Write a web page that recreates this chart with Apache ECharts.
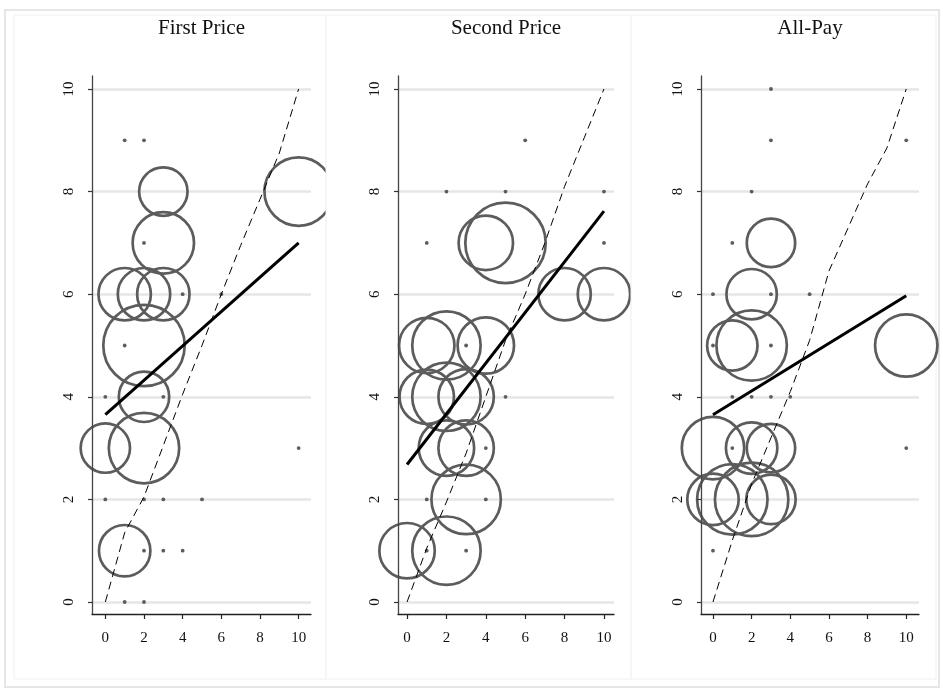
<!DOCTYPE html>
<html><head><meta charset="utf-8">
<script src="https://cdn.jsdelivr.net/npm/echarts@6/dist/echarts.min.js"></script>
<style>html,body{margin:0;padding:0;background:#fff}#c{width:943px;height:693px}</style>
</head><body><div id="c"></div>
<script>
const titles = ['First Price', 'Second Price', 'All-Pay'];
const xTicks = [0, 2, 4, 6, 8, 10];
const yTicks = [0, 2, 4, 6, 8, 10];

// [x, y, weight]
const firstPricePoints = [
  [3,8,289],[3,7,455],[1,6,336],[2,6,336],[3,6,336],[2,5,784],[2,4,312],[0,3,300],[2,3,592],[1,1,324],[10,8,560],
  [1,9,1],[2,9,1],[2,7,1],[4,6,1],[6,6,1],[1,5,1],[0,4,1],[3,4,1],[10,3,1],[0,2,1],[2,2,1],[3,2,1],[5,2,1],
  [2,1,1],[3,1,1],[4,1,1],[1,0,1],[2,0,1]
];
const secondPricePoints = [
  [4,7,361],[5,7,765],[8,6,336],[10,6,336],[1,5,374],[2,5,560],[4,5,387],[1,4,361],[2,4,560],[3,4,374],
  [2,3,374],[3,3,374],[3,2,576],[0,1,374],[2,1,560],
  [2,8,1],[5,8,1],[10,8,1],[6,9,1],[1,7,1],[10,7,1],[3,5,1],[5,4,1],[4,3,1],[1,2,1],[4,2,1],[1,1,1],[3,1,1]
];
const allPayPoints = [
  [3,7,289],[2,6,312],[1,5,312],[2,5,592],[10,5,469],[0,3,469],[2,3,324],[3,3,289],[0,2,324],[1,2,592],[2,2,642],[3,2,300],
  [3,10,1],[3,9,1],[10,9,1],[2,8,1],[1,7,1],[0,6,1],[3,6,1],[5,6,1],[0,5,1],[3,5,1],[1,4,1],[2,4,1],[3,4,1],[4,4,1],
  [1,3,1],[10,3,1],[0,1,1]
];

const firstPriceFit = [[0,3.65],[10,7.0]];
const secondPriceFit = [[0,2.68],[10,7.62]];
const allPayFit = [[0,3.65],[10,5.97]];

const firstPriceDashed = [[0,0],[1,1.35],[2,2.05],[3,3.05],[4,4.05],[5,5.0],[6,6.0],[7,6.95],[8,7.85],[9,8.75],[10,10]];
const secondPriceDashed = [[0,0],[1,1.05],[2,1.95],[3,2.9],[4,4.0],[5,5.1],[6,6.0],[7,7.0],[8,8.1],[9,9.05],[10,10]];
const allPayDashed = [[0,0],[1,1.2],[2,2.3],[3,3.2],[4,4.1],[5,5.1],[6,6.45],[7,7.3],[8,8.15],[9,8.85],[10,10]];

const panels = [
  {title: titles[0], points: firstPricePoints, fit: firstPriceFit, dashed: firstPriceDashed},
  {title: titles[1], points: secondPricePoints, fit: secondPriceFit, dashed: secondPriceDashed},
  {title: titles[2], points: allPayPoints, fit: allPayFit, dashed: allPayDashed}
];

const layouts = [
  {left: 92, width: 219, xmin: -0.69, xmax: 10.64, cellX: 14, cellW: 312},
  {left: 398, width: 216, xmin: -0.46, xmax: 10.51, cellX: 326, cellW: 305},
  {left: 701, width: 218, xmin: -0.62, xmax: 10.66, cellX: 631, cellW: 305}
];
const TOP = 76, HEIGHT = 538, YMIN = -0.234, YMAX = 10.253;
const FONT = 'Liberation Serif';
const MARK = '#5c5c5c';

const grids = [], xAxes = [], yAxes = [], series = [], graphics = [];
graphics.push({type: 'rect', shape: {x: 5, y: 10, width: 934, height: 677},
  style: {fill: 'none', stroke: '#e6e6e6', lineWidth: 2}, z: 0, silent: true});

panels.forEach((p, i) => {
  const L = layouts[i];
  const zb = 5 * i; // later panels mask overflow of earlier ones
  graphics.push({type: 'rect', shape: {x: L.cellX, y: 15, width: L.cellW, height: 664},
    style: {fill: i === 0 ? 'none' : '#fff', stroke: '#f0f0f0', lineWidth: 1}, z: zb, silent: true});
  graphics.push({type: 'text', x: L.left + L.width / 2, y: 28, z: zb + 3,
    style: {text: p.title, font: '21px "' + FONT + '"', fill: '#111', textAlign: 'center', textVerticalAlign: 'middle'}});
  grids.push({left: L.left, top: TOP, width: L.width, height: HEIGHT});
  xAxes.push({gridIndex: i, type: 'value', min: L.xmin, max: L.xmax, z: zb + 3,
    axisLine: {show: true, onZero: false, lineStyle: {color: '#222', width: 1.3}},
    axisTick: {show: true, length: 5, customValues: xTicks, lineStyle: {color: '#222', width: 1.2}},
    axisLabel: {customValues: xTicks, fontFamily: FONT, fontSize: 15, color: '#111', margin: 17},
    splitLine: {show: false}});
  yAxes.push({gridIndex: i, type: 'value', min: YMIN, max: YMAX, z: zb + 3,
    axisLine: {show: true, onZero: false, lineStyle: {color: '#444', width: 1.3}},
    axisTick: {show: true, length: 4, customValues: yTicks, lineStyle: {color: '#333', width: 1.2}},
    axisLabel: {customValues: yTicks, rotate: 90, fontFamily: FONT, fontSize: 15, color: '#111', margin: 15},
    splitLine: {show: false}});
  series.push({type: 'line', xAxisIndex: i, yAxisIndex: i, data: [], z: zb + 1, silent: true,
    markLine: {z: zb + 1, silent: true, symbol: ['none', 'none'], label: {show: false},
      lineStyle: {color: '#e6e6e6', width: 2.5, type: 'solid'},
      emphasis: {disabled: true},
      data: yTicks.map(v => ({yAxis: v}))}});
  series.push({type: 'scatter', xAxisIndex: i, yAxisIndex: i, z: zb + 2, silent: true,
    data: p.points.map(v => v[2] <= 1
      ? {value: v, itemStyle: {color: MARK, borderWidth: 0}}
      : {value: v}),
    symbolSize: v => v[2] <= 1 ? 3.8 : 3 * Math.sqrt(v[2]) - 2.6,
    itemStyle: {color: 'rgba(0,0,0,0)', borderColor: MARK, borderWidth: 2.7, opacity: 1}});
  series.push({type: 'line', xAxisIndex: i, yAxisIndex: i, z: zb + 3, silent: true,
    data: p.dashed, showSymbol: false, symbol: 'none',
    lineStyle: {color: '#000', width: 1, type: [8, 5]}});
  series.push({type: 'line', xAxisIndex: i, yAxisIndex: i, z: zb + 3, silent: true,
    data: p.fit, showSymbol: false, symbol: 'none',
    lineStyle: {color: '#000', width: 3}});
});

const chart = echarts.init(document.getElementById('c'), null, {renderer: 'canvas'});
chart.setOption({
  animation: false,
  backgroundColor: '#fff',
  grid: grids, xAxis: xAxes, yAxis: yAxes, series: series,
  graphic: {elements: graphics}
});
</script></body></html>
